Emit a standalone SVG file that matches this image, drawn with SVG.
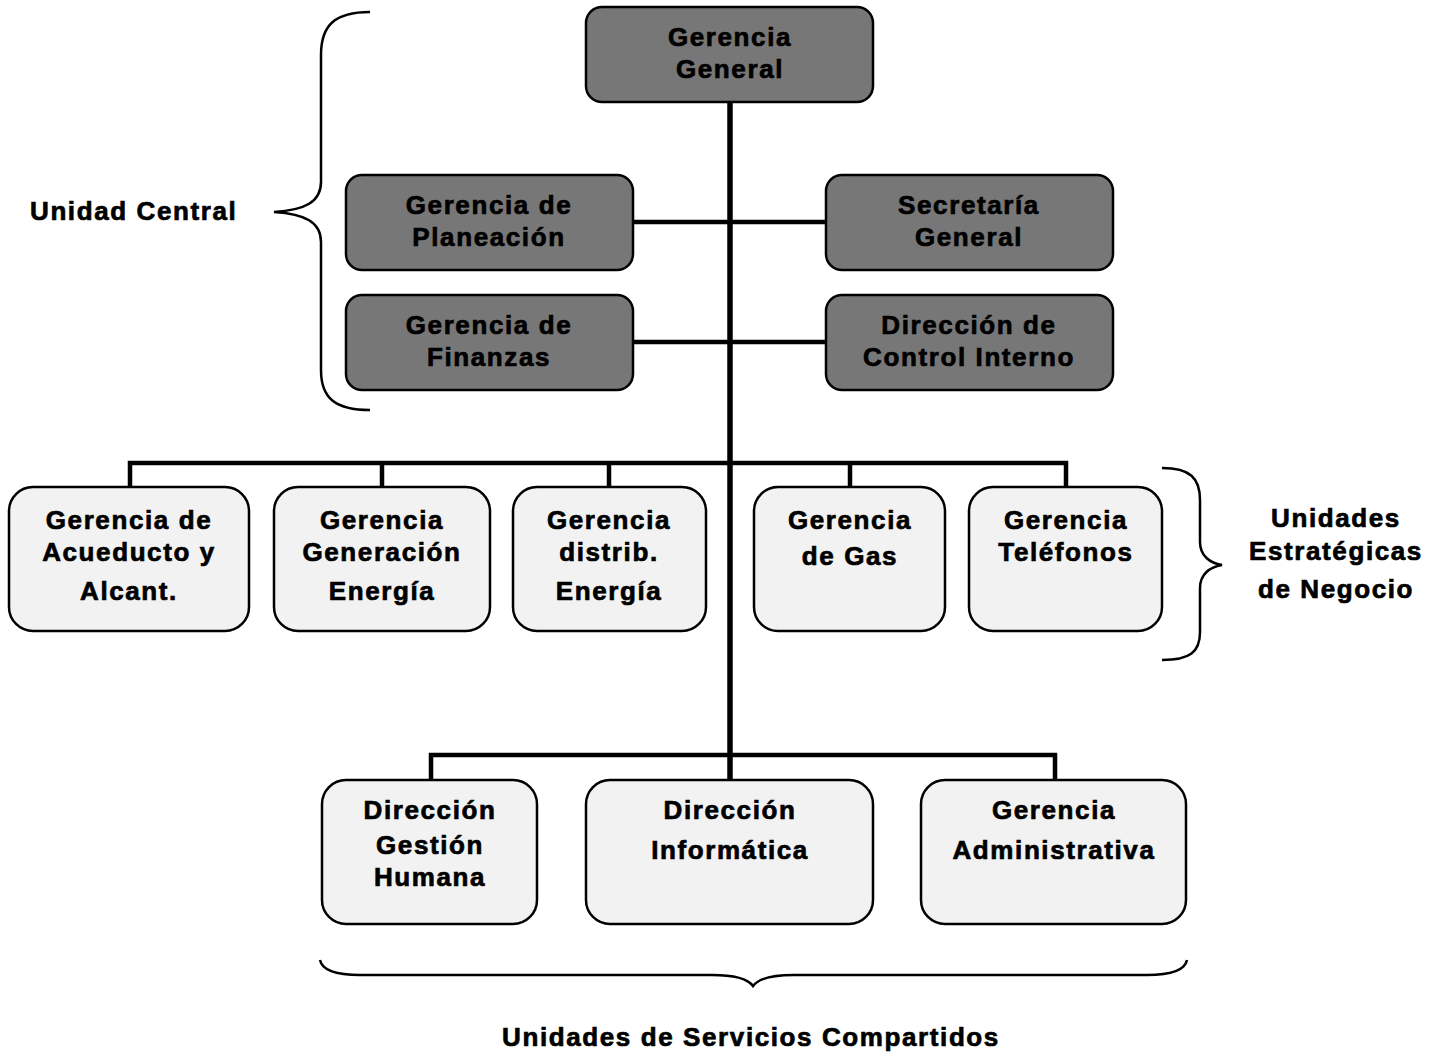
<svg xmlns="http://www.w3.org/2000/svg" width="1442" height="1057" viewBox="0 0 1442 1057">
<style>
.dark{fill:#777777;stroke:#000;stroke-width:2.5}
.light{fill:#f2f2f2;stroke:#000;stroke-width:2.5}
text{font-weight:bold;font-size:26px;letter-spacing:1.6px;fill:#000;stroke:#000;stroke-width:0.7px}
.t{text-anchor:middle}
.c{stroke:#000;stroke-width:4.5;fill:none}
.brace{stroke:#000;stroke-width:2.5;fill:none}
</style>
<rect width="1442" height="1057" fill="#fff"/>
<g id="connectors">
<line class="c" x1="730" y1="102" x2="730" y2="780" style="stroke-width:5.5"/>
<line class="c" x1="633" y1="222" x2="826" y2="222"/>
<line class="c" x1="633" y1="342" x2="826" y2="342"/>
<polyline class="c" points="130,487 130,463 1066,463 1066,487"/>
<line class="c" x1="382" y1="463" x2="382" y2="487"/>
<line class="c" x1="609" y1="463" x2="609" y2="487"/>
<line class="c" x1="850" y1="463" x2="850" y2="487"/>
<polyline class="c" points="431,780 431,755 1055,755 1055,780"/>
</g>
<g font-family="Liberation Sans, Arial, Helvetica, sans-serif">
<g id="gerencia-general"><rect class="dark" x="586" y="7" width="287" height="95" rx="16"/><text class="t" x="730" y="46">Gerencia</text><text class="t" x="730" y="78">General</text></g>
<g id="gerencia-planeacion"><rect class="dark" x="346" y="175" width="287" height="95" rx="16"/><text class="t" x="489" y="214">Gerencia de</text><text class="t" x="489" y="246">Planeación</text></g>
<g id="secretaria-general"><rect class="dark" x="826" y="175" width="287" height="95" rx="16"/><text class="t" x="969" y="214">Secretaría</text><text class="t" x="969" y="246">General</text></g>
<g id="gerencia-finanzas"><rect class="dark" x="346" y="295" width="287" height="95" rx="16"/><text class="t" x="489" y="334">Gerencia de</text><text class="t" x="489" y="366">Finanzas</text></g>
<g id="direccion-control"><rect class="dark" x="826" y="295" width="287" height="95" rx="16"/><text class="t" x="969" y="334">Dirección de</text><text class="t" x="969" y="366">Control Interno</text></g>
<g id="gerencia-acueducto"><rect class="light" x="9" y="487" width="240" height="144" rx="24"/><text class="t" x="129" y="529">Gerencia de</text><text class="t" x="129" y="561">Acueducto y</text><text class="t" x="129" y="600">Alcant.</text></g>
<g id="gerencia-generacion"><rect class="light" x="274" y="487" width="216" height="144" rx="24"/><text class="t" x="382" y="529">Gerencia</text><text class="t" x="382" y="561">Generación</text><text class="t" x="382" y="600">Energía</text></g>
<g id="gerencia-distrib"><rect class="light" x="513" y="487" width="193" height="144" rx="24"/><text class="t" x="609" y="529">Gerencia</text><text class="t" x="609" y="561">distrib.</text><text class="t" x="609" y="600">Energía</text></g>
<g id="gerencia-gas"><rect class="light" x="754" y="487" width="191" height="144" rx="24"/><text class="t" x="850" y="529">Gerencia</text><text class="t" x="850" y="565">de Gas</text></g>
<g id="gerencia-telefonos"><rect class="light" x="969" y="487" width="193" height="144" rx="24"/><text class="t" x="1066" y="529">Gerencia</text><text class="t" x="1066" y="561">Teléfonos</text></g>
<g id="direccion-gestion"><rect class="light" x="322" y="780" width="215" height="144" rx="24"/><text class="t" x="430" y="819">Dirección</text><text class="t" x="430" y="854">Gestión</text><text class="t" x="430" y="886">Humana</text></g>
<g id="direccion-informatica"><rect class="light" x="586" y="780" width="287" height="144" rx="24"/><text class="t" x="730" y="819">Dirección</text><text class="t" x="730" y="859">Informática</text></g>
<g id="gerencia-administrativa"><rect class="light" x="921" y="780" width="265" height="144" rx="24"/><text class="t" x="1054" y="819">Gerencia</text><text class="t" x="1054" y="859">Administrativa</text></g>
<g id="labels">
<text x="30" y="220">Unidad Central</text>
<text class="t" x="1336" y="527">Unidades</text>
<text class="t" x="1336" y="560">Estratégicas</text>
<text class="t" x="1336" y="598">de Negocio</text>
<text class="t" x="751" y="1046">Unidades de Servicios Compartidos</text>
</g>
</g>
<g id="braces">
<path class="brace" d="M370,12 C335,12 321,25 321,55 L321,182 C321,202 305,210 274,212 C305,214 321,222 321,242 L321,370 C321,398 335,410 370,410"/>
<path class="brace" d="M1162,468 C1190,468 1200,478 1200,500 L1200,542 C1200,556 1210,563 1222,565 C1210,567 1200,574 1200,588 L1200,632 C1200,652 1190,660 1162,660"/>
<path class="brace" d="M320,960 C322,970 335,975 360,975 L712,975 C735,975 748,979 753,986 C758,979 771,975 794,975 L1147,975 C1172,975 1185,970 1187,960"/>
</g>
</svg>
